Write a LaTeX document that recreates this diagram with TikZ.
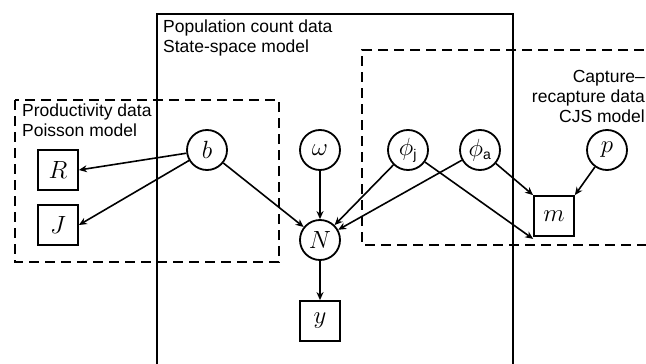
\documentclass[tikz,border=0pt]{standalone}
\usepackage{fontspec}
\setmainfont{Liberation Sans}
\usetikzlibrary{arrows.meta}
\tikzset{
  var/.style={circle, draw, line width=1.8pt, minimum size=40pt, inner sep=0pt, font=\fontsize{26}{26}\selectfont},
  dat/.style={rectangle, draw, line width=1.8pt, minimum size=40pt, inner sep=0pt, font=\fontsize{26}{26}\selectfont},
  edge/.style={line width=1.6pt, -{Stealth[length=8pt,width=7pt]}},
  dbox/.style={line width=2.8pt, dash pattern=on 10pt off 6pt},
  sbox/.style={line width=1.6pt},
  lbl/.style={font=\fontsize{17.5}{20}\selectfont, inner sep=0pt, align=left}
}
\begin{document}
\begin{tikzpicture}[x=1pt,y=-1pt]
\useasboundingbox (0,0) rectangle (646,364);
\begin{scope}
\clip (0,0) rectangle (646,364);
\draw[sbox] (157,370) -- (157,14) -- (513,14) -- (513,370);
\draw[dbox] (15,100) rectangle (279,262);
\draw[dbox] (660,50) -- (362,50) -- (362,245) -- (660,245);
\end{scope}
\node[lbl, anchor=north east, align=right] (tcjs) at (645,70) {Capture–\\recapture data\\CJS model};
\node[lbl, anchor=north west] (tpop) at (163,20) {Population count data\\State-space model};
\node[lbl, anchor=north west] (tprod) at (22,104) {Productivity data\\Poisson model};

\node[var] (b) at (207,150) {$b$};
\node[var] (w) at (320,150) {$\omega$};
\node[var] (pj) at (408,150) {$\phi_{\mbox{\fontsize{14}{14}\selectfont j}}$};
\node[var] (pa) at (480,150) {$\phi_{\mbox{\fontsize{14}{14}\selectfont a}}$};
\node[var] (p) at (607,150) {$p$};
\node[var] (N) at (320,240) {$N$};
\node[dat] (R) at (58,170) {$R$};
\node[dat] (J) at (58,225) {$J$};
\node[dat] (m) at (554,216) {$m$};
\node[dat] (y) at (320,321) {$y$};

\draw[edge] (b) -- (R.east);
\draw[edge] (b) -- (J.east);
\draw[edge] (b) -- (N);
\draw[edge] (w) -- (N);
\draw[edge] (pj) -- (N);
\draw[edge] (pa) -- (N);
\draw[edge] (pj) -- ([yshift=-2pt]m.south west);
\draw[edge] (pa) -- (m.north west);
\draw[edge] (p) -- (m.north east);
\draw[edge] (N) -- (y);
\end{tikzpicture}
\end{document}
